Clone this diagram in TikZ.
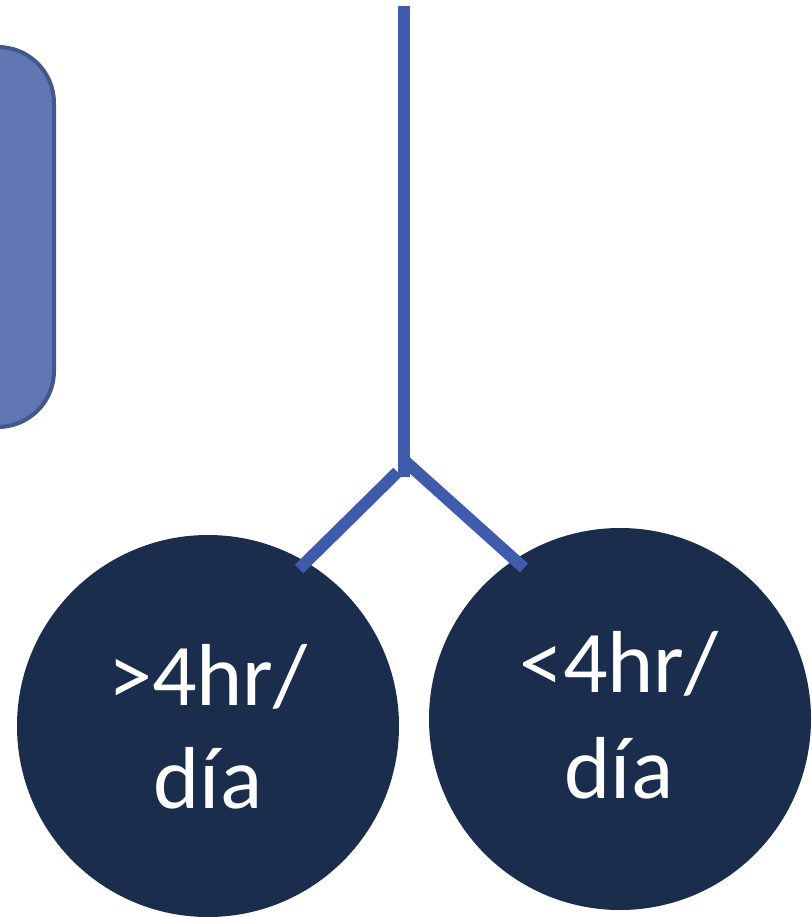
\documentclass[tikz,border=0pt]{standalone}
\usepackage{fontspec}
\setmainfont{Carlito}
\definecolor{linkblue}{HTML}{3F5BAB}
\definecolor{boxfill}{HTML}{6177B4}
\definecolor{boxedge}{HTML}{44578A}
\definecolor{navy}{HTML}{1B2D4C}
\tikzset{
  branch/.style={draw=linkblue, line width=12pt},
  bubble/.style={circle, fill=navy, minimum size=382pt, inner sep=0pt},
  bubbletext/.style={anchor=base, text=white, font=\fontsize{88}{104}\selectfont, inner sep=0pt},
}
\begin{document}
\begin{tikzpicture}[x=1pt, y=-1pt]
  \useasboundingbox (0,0) rectangle (811,917);
  \begin{scope}
    \clip (0,0) rectangle (811,917);
    % side panel, partly outside the frame
    \draw[fill=boxfill, draw=boxedge, line width=4pt, rounded corners=56pt]
      (-120,47) rectangle (54,427);
    % the two outcomes
    \node[bubble] (more) at (208,726) {};
    \node[bubble] (less) at (620,719) {};
  \end{scope}
  \node[bubbletext] (more1) at (208,705) {>4hr/};
  \node[bubbletext] (more2) at (208,808) {día};
  \node[bubbletext] (less1) at (619,692) {<4hr/};
  \node[bubbletext] (less2) at (619,798) {día};
  % connectors
  \coordinate (top) at (403.5,6);
  \coordinate (stem) at (403.5,477);
  \coordinate (jl) at (397.5,472);
  \coordinate (jr) at (406,462);
  \coordinate (endl) at (299,569);
  \coordinate (endr) at (524,568);
  \draw[branch] (top) -- (stem);
  \draw[branch] (jl) -- (endl);
  \draw[branch] (jr) -- (endr);
\end{tikzpicture}
\end{document}
